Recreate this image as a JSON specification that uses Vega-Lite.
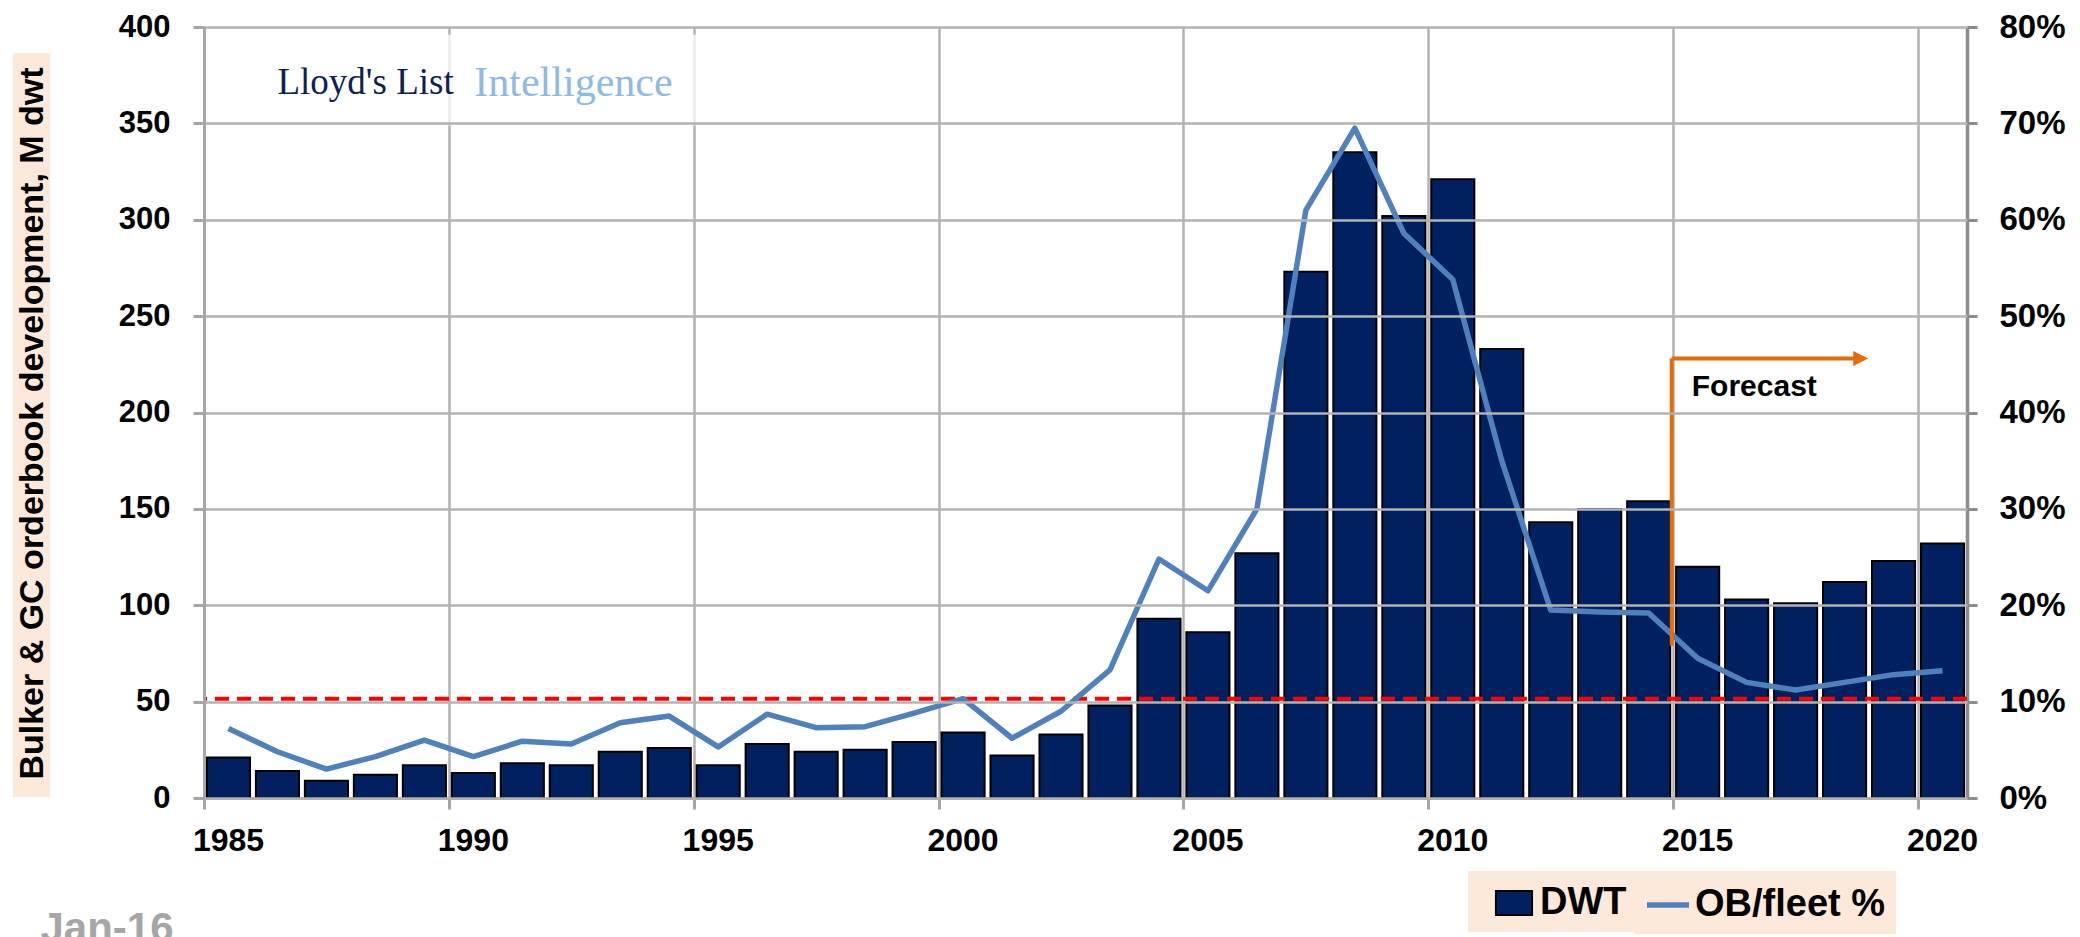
{
  "$schema": "https://vega.github.io/schema/vega-lite/v6.json",
  "width": 1763,
  "height": 771,
  "autosize": {"type": "none"},
  "padding": {"left": 204, "top": 27, "right": 113, "bottom": 139},
  "background": "white",
  "config": {"view": {"stroke": null}, "font": "Liberation Sans"},
  "datasets": {
    "ob": [
      {"year": 1985, "dwt": 21, "pct": 0.072},
      {"year": 1986, "dwt": 14, "pct": 0.048},
      {"year": 1987, "dwt": 9, "pct": 0.030},
      {"year": 1988, "dwt": 12, "pct": 0.043},
      {"year": 1989, "dwt": 17, "pct": 0.060},
      {"year": 1990, "dwt": 13, "pct": 0.043},
      {"year": 1991, "dwt": 18, "pct": 0.059},
      {"year": 1992, "dwt": 17, "pct": 0.056},
      {"year": 1993, "dwt": 24, "pct": 0.078},
      {"year": 1994, "dwt": 26, "pct": 0.085},
      {"year": 1995, "dwt": 17, "pct": 0.053},
      {"year": 1996, "dwt": 28, "pct": 0.087},
      {"year": 1997, "dwt": 24, "pct": 0.073},
      {"year": 1998, "dwt": 25, "pct": 0.074},
      {"year": 1999, "dwt": 29, "pct": 0.088},
      {"year": 2000, "dwt": 34, "pct": 0.103},
      {"year": 2001, "dwt": 22, "pct": 0.062},
      {"year": 2002, "dwt": 33, "pct": 0.090},
      {"year": 2003, "dwt": 48, "pct": 0.133},
      {"year": 2004, "dwt": 93, "pct": 0.248},
      {"year": 2005, "dwt": 86, "pct": 0.215},
      {"year": 2006, "dwt": 127, "pct": 0.300},
      {"year": 2007, "dwt": 273, "pct": 0.610},
      {"year": 2008, "dwt": 335, "pct": 0.695},
      {"year": 2009, "dwt": 302, "pct": 0.586},
      {"year": 2010, "dwt": 321, "pct": 0.538},
      {"year": 2011, "dwt": 233, "pct": 0.350},
      {"year": 2012, "dwt": 143, "pct": 0.195},
      {"year": 2013, "dwt": 150, "pct": 0.193},
      {"year": 2014, "dwt": 154, "pct": 0.192},
      {"year": 2015, "dwt": 120, "pct": 0.145},
      {"year": 2016, "dwt": 103, "pct": 0.120},
      {"year": 2017, "dwt": 101, "pct": 0.112},
      {"year": 2018, "dwt": 112, "pct": 0.120},
      {"year": 2019, "dwt": 123, "pct": 0.128},
      {"year": 2020, "dwt": 132, "pct": 0.132}
    ]
  },
  "resolve": {"scale": {"x": "independent", "y": "independent", "stroke": "independent", "color": "independent"}},
  "layer": [
    {
      "data": {"values": [{"x1": 1985.63, "x2": 1995.48, "y1": 349, "y2": 396, "k": 1}]},
      "mark": {"type": "rect", "fill": "white", "fillOpacity": 0.75, "strokeWidth": 0},
      "encoding": {
        "x": {
          "field": "x1", "type": "quantitative",
          "scale": {"domain": [1985, 2021], "nice": false, "zero": false},
          "axis": {
            "orient": "bottom",
            "values": [1985, 1990, 1995, 2000, 2005, 2010, 2015, 2020],
            "labels": false,
            "grid": true, "gridColor": "#b3b3b3", "gridWidth": 2.5,
            "domain": true, "domainColor": "#a6a6a6", "domainWidth": 3,
            "ticks": true, "tickColor": "#a6a6a6", "tickWidth": 3, "tickSize": 11,
            "title": "Jan-16", "titleFont": "Liberation Sans", "titleFontSize": 42,
            "titleFontWeight": "bold", "titleColor": "#a6a6a6",
            "titleAlign": "left", "titleBaseline": "top", "titleAngle": 0,
            "titleX": -164, "titleY": 110
          }
        },
        "x2": {"field": "x2"},
        "y": {
          "field": "y1", "type": "quantitative",
          "scale": {"domain": [0, 400], "nice": false},
          "axis": {
            "values": [0, 50, 100, 150, 200, 250, 300, 350, 400],
            "grid": true, "gridColor": "#b3b3b3", "gridWidth": 2.5,
            "domainColor": "#a6a6a6", "domainWidth": 3,
            "tickColor": "#a6a6a6", "tickWidth": 3, "tickSize": 11,
            "labelFont": "Liberation Sans", "labelFontSize": 31, "labelFontWeight": "bold",
            "labelColor": "black", "labelPadding": 23,
            "title": "Bulker & GC orderbook development, M dwt",
            "titleFont": "Liberation Sans", "titleFontSize": 34, "titleFontWeight": "bold",
            "titleColor": "black", "titleAngle": -90, "titleAlign": "center",
            "titleBaseline": "middle", "titleX": -172, "titleY": 396,
            "zindex": 1
          }
        },
        "y2": {"field": "y2"},
        "stroke": {
          "field": "k", "type": "quantitative",
          "scale": {"domain": [0, 1], "range": ["#fde9d9", "#fde9d9"]},
          "legend": {
            "orient": "none", "legendX": -191, "legendY": 26,
            "direction": "vertical", "title": null,
            "gradientLength": 744, "gradientThickness": 37,
            "gradientStrokeWidth": 0, "labelOpacity": 0, "labelFontSize": 1,
            "padding": 0, "zindex": 0
          }
        }
      }
    },
    {
      "layer": [
        {
          "data": {"name": "ob"},
          "mark": {"type": "bar", "stroke": "black", "strokeWidth": 2},
          "encoding": {
            "x": {
              "field": "year", "type": "ordinal",
              "scale": {"type": "band", "paddingInner": 0.12, "paddingOuter": 0.06},
              "axis": {
                "orient": "bottom",
                "values": [1985, 1990, 1995, 2000, 2005, 2010, 2015, 2020],
                "labelAngle": 0, "ticks": false, "tickSize": 0, "domain": false, "grid": false,
                "labelPadding": 27, "labelFont": "Liberation Sans", "labelFontSize": 32,
                "labelFontWeight": "bold", "labelColor": "black", "title": null
              }
            },
            "y": {"field": "dwt", "type": "quantitative", "scale": {"domain": [0, 400], "nice": false}, "axis": null},
            "color": {
              "datum": "DWT", "type": "nominal",
              "scale": {"domain": ["DWT"], "range": ["#002060"]},
              "legend": {
                "orient": "none", "legendX": 1264, "legendY": 844,
                "title": null,
                "fillColor": "#fde9d9", "padding": 10, "symbolOffset": 14,
                "symbolSize": 1764, "symbolType": "M-0.86,-0.57H0.86V0.57H-0.86Z",
                "symbolStrokeColor": "black", "symbolStrokeWidth": 2, "symbolOpacity": 1,
                "labelFont": "Liberation Sans", "labelFontSize": 38, "labelFontWeight": "bold",
                "labelColor": "black", "labelOffset": 4, "labelLimit": 500, "zindex": 0
              }
            }
          }
        },
        {
          "data": {"values": [{"t": 51.5}]},
          "mark": {"type": "rule", "color": "#ff0000", "strokeDash": [14, 8], "strokeWidth": 4},
          "encoding": {"y": {"field": "t", "type": "quantitative"}}
        }
      ]
    },
    {
      "data": {"name": "ob"},
      "mark": {"type": "line", "strokeWidth": 5.5, "strokeJoin": "round"},
      "encoding": {
        "x": {"field": "year", "type": "ordinal", "scale": {"type": "point", "padding": 0.5}, "axis": null},
        "y": {
          "field": "pct", "type": "quantitative",
          "scale": {"domain": [0, 0.8], "nice": false},
          "axis": {
            "orient": "right", "format": ".0%",
            "values": [0, 0.1, 0.2, 0.3, 0.4, 0.5, 0.6, 0.7, 0.8],
            "grid": false, "domainColor": "#8c8c8c", "domainWidth": 3.5,
            "tickColor": "#8c8c8c", "tickWidth": 3, "tickSize": 10,
            "labelFont": "Liberation Sans", "labelFontSize": 33, "labelFontWeight": "bold",
            "labelColor": "black", "labelPadding": 22, "title": null
          }
        },
        "stroke": {
          "datum": "OB/fleet %", "type": "nominal",
          "scale": {"domain": ["OB/fleet %"], "range": ["#4f81bd"]},
          "legend": {
            "orient": "none", "legendX": 1430, "legendY": 844,
            "title": null,
            "fillColor": "#fde9d9", "padding": 10, "symbolOffset": 0,
            "symbolSize": 1764, "symbolType": "stroke",
            "symbolStrokeWidth": 5.5, "symbolOpacity": 1,
            "labelFont": "Liberation Sans", "labelFontSize": 38, "labelFontWeight": "bold",
            "labelColor": "black", "labelOffset": 3, "labelLimit": 500, "zindex": 0
          }
        }
      }
    },
    {
      "layer": [
        {
          "data": {"values": [{"x": 2014.97, "y": 79, "y2": 228}]},
          "mark": {"type": "rule", "color": "#e46c0a", "strokeWidth": 4},
          "encoding": {
            "x": {"field": "x", "type": "quantitative", "scale": {"domain": [1985, 2021], "nice": false, "zero": false}, "axis": null},
            "y": {"field": "y", "type": "quantitative", "scale": {"domain": [0, 400], "nice": false}, "axis": null},
            "y2": {"field": "y2"}
          }
        },
        {
          "data": {"values": [{"x": 2014.97, "x2": 2018.7, "y": 228}]},
          "mark": {"type": "rule", "color": "#e46c0a", "strokeWidth": 4},
          "encoding": {
            "x": {"field": "x", "type": "quantitative"},
            "x2": {"field": "x2"},
            "y": {"field": "y", "type": "quantitative"}
          }
        },
        {
          "data": {"values": [{"x": 2018.83, "y": 228}]},
          "mark": {"type": "point", "shape": "M-1,-1L1,0L-1,1Z", "filled": true, "color": "#e46c0a", "size": 225, "opacity": 1},
          "encoding": {
            "x": {"field": "x", "type": "quantitative"},
            "y": {"field": "y", "type": "quantitative"}
          }
        },
        {
          "data": {"values": [{"x": 2015.38, "y": 213, "t": "Forecast"}]},
          "mark": {"type": "text", "align": "left", "baseline": "middle", "font": "Liberation Sans", "fontSize": 30, "fontWeight": "bold", "color": "black"},
          "encoding": {
            "x": {"field": "x", "type": "quantitative"},
            "y": {"field": "y", "type": "quantitative"},
            "text": {"field": "t"}
          }
        },
        {
          "data": {"values": [{"x": 1986.5, "y": 371, "t": "Lloyd's List"}]},
          "mark": {"type": "text", "align": "left", "baseline": "middle", "font": "Liberation Serif", "fontSize": 37, "color": "#0d2152"},
          "encoding": {
            "x": {"field": "x", "type": "quantitative"},
            "y": {"field": "y", "type": "quantitative"},
            "text": {"field": "t"}
          }
        },
        {
          "data": {"values": [{"x": 1990.52, "y": 371, "t": "Intelligence"}]},
          "mark": {"type": "text", "align": "left", "baseline": "middle", "font": "Liberation Serif", "fontSize": 42, "color": "#8dbbe6"},
          "encoding": {
            "x": {"field": "x", "type": "quantitative"},
            "y": {"field": "y", "type": "quantitative"},
            "text": {"field": "t"}
          }
        }
      ]
    }
  ]
}
